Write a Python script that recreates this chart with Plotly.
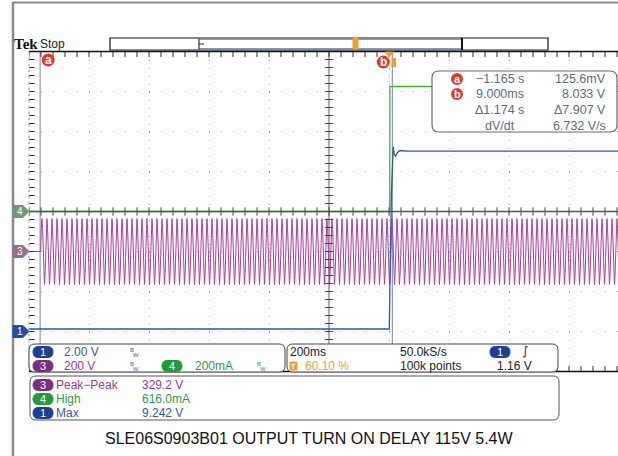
import plotly.graph_objects as go

W, H = 618, 456
FONT = "Liberation Sans, Arial, sans-serif"

# ---------------- scope settings ----------------
sec_per_div = 0.2
trigger_pos_pct = 60.10
h_divs = 10
v_divs = 8
ch1_v_per_div = 2.0
ch3_v_per_div = 200.0
ch4_a_per_div = 0.2
ch1_offset_div = 1.0
ch3_offset_div = 3.0
ch4_offset_div = 4.0

cursor_a_t = -1.165
cursor_b_t = 0.009

# Ch1 - output voltage (s, V)
ch1_t = [-1.202, -0.0010, 0.0000, 0.0030, 0.0060, 0.0090, 0.0120, 0.0150,
         0.0200, 0.0260, 0.0350, 0.0600, 0.2000, 0.4000, 0.7700]
ch1_v = [0.126, 0.126, 1.16, 4.60, 6.90, 8.033, 9.242, 8.90,
         8.75, 8.95, 9.05, 9.02, 9.03, 9.02, 9.02]

# Ch4 - input current (s, A)
ch4_t = [-1.202, 0.0004, 0.0010, 0.7700]
ch4_a = [0.0, 0.0, 0.625, 0.625]

# Ch3 - AC input: one 60 Hz mains cycle as read (V), repeated over the record
ch3_cycle_v = [0.0, 116.4, 164.6, 116.4, 0.0, -116.4, -164.6, -116.4]
ch3_cycle_s = 1 / 60
ch3_start_t = -1.163
ch3_end_t = 0.77

# readout texts
readout_rows = [("a", "\u22121.165 s", "125.6mV"),
                ("b", "9.000ms", "8.033 V"),
                ("", "\u03941.174 s", "\u03947.907 V"),
                ("", "dV/dt", "6.732 V/s")]
caption = "SLE06S0903B01 OUTPUT TURN ON DELAY 115V 5.4W"

# ---------------- geometry ----------------
GX0, GY0, GY1 = 29, 51.5, 371.5          # graticule left / top / bottom (px)
px_per_hdiv = (GY1 - GY0) / v_divs * 1.5  # 60 px
t_left = -trigger_pos_pct / 100 * h_divs * sec_per_div
t_right = t_left + (W - GX0) / px_per_hdiv * sec_per_div
t_center = t_left + h_divs / 2 * sec_per_div

def ypx(div):
    return GY1 - div * (GY1 - GY0) / v_divs

# build ch3 trace from the repeated cycle
ch3_t, ch3_v = [t_left, ch3_start_t], [0.0, 0.0]
step = ch3_cycle_s / len(ch3_cycle_v)
c = 0
while ch3_start_t + c * ch3_cycle_s < ch3_end_t:
    for i, v in enumerate(ch3_cycle_v):
        ch3_t.append(ch3_start_t + c * ch3_cycle_s + i * step)
        ch3_v.append(v)
    c += 1

C_BLUE, C_PURP, C_GREEN = "#2a55b0", "#a8409c", "#4cae3c"
P_BLUE, P_PURP, P_GREEN = "#1b3f94", "#7b2d82", "#1f9a3c"
C_RED, C_ORANGE = "#e23a2a", "#f0a030"
C_READ = "#5b6a8a"

fig = go.Figure()

# traces
fig.add_trace(go.Scatter(x=ch3_t, y=[ch3_offset_div + v / ch3_v_per_div for v in ch3_v],
                         mode="lines", line=dict(color=C_PURP, width=1), hoverinfo="skip"))
fig.add_trace(go.Scatter(x=ch4_t, y=[ch4_offset_div + a / ch4_a_per_div for a in ch4_a],
                         mode="lines", line=dict(color=C_GREEN, width=1.3), hoverinfo="skip"))
fig.add_trace(go.Scatter(x=ch1_t, y=[ch1_offset_div + v / ch1_v_per_div for v in ch1_v],
                         mode="lines", line=dict(color=C_BLUE, width=1.3), hoverinfo="skip"))

# graticule tick marks
minor_t = [t_left + k * sec_per_div / 5 for k in range(0, 60)]
minor_y = [k * 0.2 for k in range(0, 41)]
tick_mk = dict(color="#333", size=8, line=dict(color="#333", width=1))
for yy in (0, v_divs):
    fig.add_trace(go.Scatter(x=minor_t, y=[yy] * len(minor_t), mode="markers",
                             marker=dict(symbol="line-ns", **tick_mk), hoverinfo="skip"))
fig.add_trace(go.Scatter(x=minor_t, y=[v_divs / 2] * len(minor_t), mode="markers",
                         marker=dict(symbol="line-ns", color="#444", size=6,
                                     line=dict(color="#444", width=1)), hoverinfo="skip"))
fig.add_trace(go.Scatter(x=[t_center] * len(minor_y), y=minor_y, mode="markers",
                         marker=dict(symbol="line-ew", color="#444", size=6,
                                     line=dict(color="#444", width=1)), hoverinfo="skip"))
fig.add_trace(go.Scatter(x=[t_left] * len(minor_y), y=minor_y, mode="markers",
                         marker=dict(symbol="line-ew", **tick_mk), hoverinfo="skip"))

# dummy trace for the pixel overlay axes
fig.add_trace(go.Scatter(x=[0], y=[0], xaxis="x2", yaxis="y2", mode="markers",
                         marker=dict(opacity=0), hoverinfo="skip"))

shapes, anns = [], []

def rrect(x0, y0, x1, y1, r):
    return (f"M{x0+r},{y0} L{x1-r},{y0} Q{x1},{y0} {x1},{y0+r} L{x1},{y1-r} "
            f"Q{x1},{y1} {x1-r},{y1} L{x0+r},{y1} Q{x0},{y1} {x0},{y1-r} "
            f"L{x0},{y0+r} Q{x0},{y0} {x0+r},{y0} Z")

def pshape(path, fill="white", line="#333", width=1, layer="above"):
    shapes.append(dict(type="path", path=path, xref="x2", yref="y2", fillcolor=fill,
                       line=dict(color=line, width=width), layer=layer))

def pline(x0, y0, x1, y1, color, width=1, dash="solid", layer="above"):
    shapes.append(dict(type="line", x0=x0, y0=y0, x1=x1, y1=y1, xref="x2", yref="y2",
                       line=dict(color=color, width=width, dash=dash), layer=layer))

def txt(x, y, s, color="#333", size=11.5, anchor="left", family=FONT, **kw):
    anns.append(dict(x=x, y=y, xref="x2", yref="y2", text=s, showarrow=False,
                     xanchor=anchor, yanchor="middle",
                     font=dict(family=family, size=size, color=color), **kw))

def pill(x0, x1, yc, label, fill):
    pshape(rrect(x0, yc - 5.5, x1, yc + 5.5, 5.5), fill=fill, line=fill)
    txt((x0 + x1) / 2, yc, label, color="white", size=11, anchor="center")

def bw(x, yc, color):
    txt(x, yc - 2, "B", color=color, size=6)
    txt(x + 2.5, yc + 2.5, "W", color=color, size=6)

# cursors (data coordinates)
for ct in (cursor_a_t, cursor_b_t):
    shapes.append(dict(type="line", xref="x", yref="y", x0=ct, x1=ct, y0=0, y1=v_divs,
                       line=dict(color="#7484aa", width=1), layer="below"))
# center vertical line
shapes.append(dict(type="line", xref="x", yref="y", x0=t_center, x1=t_center, y0=0, y1=v_divs,
                   line=dict(color="#5a5a5a", width=1), layer="below"))
# center horizontal line (ch4 zero level)
shapes.append(dict(type="line", xref="x", yref="y", x0=t_left, x1=t_right, y0=v_divs / 2,
                   y1=v_divs / 2, line=dict(color="#4e5e4e", width=1.6), layer="above"))

# outer frame
pline(13, 2, 13, H, "#8a8a8a", 2.5)
pline(13, 2.5, W, 2.5, "#8a8a8a", 2)
# graticule edges
pline(GX0, GY0, W, GY0, "#111", 1.5)
pline(GX0, GY1, W, GY1, "#111", 1.5)
pline(GX0, GY0, GX0, GY1, "#9a9a9a", 1, dash="dot")

# cursor labels on graticule
for ct, lab, dx, dy in ((cursor_a_t, "a", 8, -8.5), (cursor_b_t, "b", -9, -10.5)):
    shapes.append(dict(type="circle", xref="x", yref="y", xsizemode="pixel", ysizemode="pixel",
                       xanchor=ct, yanchor=v_divs, x0=dx - 6.5, x1=dx + 6.5, y0=dy - 6.5, y1=dy + 6.5,
                       fillcolor=C_RED, line=dict(color=C_RED, width=0), layer="above"))
    anns.append(dict(x=ct, y=v_divs, xref="x", yref="y", xshift=dx, yshift=dy, text=f"<b>{lab}</b>",
                     showarrow=False, font=dict(family=FONT, size=12, color="white")))
# trigger position markers
shapes.append(dict(type="circle", xref="x", yref="y", xsizemode="pixel", ysizemode="pixel",
                   xanchor=0, yanchor=v_divs, x0=-4, x1=4, y0=-4, y1=4,
                   fillcolor=C_ORANGE, line=dict(width=0), layer="above"))
shapes.append(dict(type="rect", xref="x", yref="y", xsizemode="pixel", ysizemode="pixel",
                   xanchor=0, yanchor=v_divs, x0=2, x1=6.5, y0=-15.5, y1=-6.5,
                   fillcolor=C_ORANGE, line=dict(width=0), layer="above"))

# channel markers on the left edge
for off, lab, col in ((ch4_offset_div, "4", "#6f9a6f"), (ch3_offset_div, "3", "#93708c"),
                      (ch1_offset_div, "1", "#1f4fa6")):
    y = ypx(off)
    pshape(f"M13,{y-6} L23,{y-6} L29,{y} L23,{y+6} L13,{y+6} Z", fill=col, line=col)
    txt(19.5, y, lab, color="white", size=10, anchor="center")

# Tek Stop + record bar
txt(12, 44, "<b>Tek</b>", color="#111", size=15, family="Liberation Serif, Times New Roman, serif")
txt(38, 43.5, "Stop", color="#222", size=12)
pshape("M110,38 L548,38 L548,50 L110,50 Z", fill="white", line="#111", width=1.2)
pshape("M199,39.5 L462,39.5 L462,48.5 L199,48.5 Z", fill="rgba(0,0,0,0)", line="#8a9ab8", width=1)
pline(462, 38, 462, 50, "#111", 2)
pline(199, 38.5, 199, 49.5, "#333", 1)
pline(199, 44, 204, 44, "#333", 1)
pshape("M353,40 L358,40 L358,49 L353,49 Z", fill=C_ORANGE, line=C_ORANGE)
shapes.append(dict(type="circle", xref="x2", yref="y2", x0=352.5, x1=358.5, y0=36.5, y1=41.5,
                   fillcolor=C_ORANGE, line=dict(width=0), layer="above"))

# cursor readout box
pshape(rrect(432, 71, 617, 132, 7), fill="white", line="#6a6a6a", width=1.2)
for (lab, v1, v2), yc in zip(readout_rows, (79, 94, 110, 126)):
    if lab:
        shapes.append(dict(type="circle", xref="x2", yref="y2", x0=451, x1=463,
                           y0=yc - 6, y1=yc + 6, fillcolor=C_RED,
                           line=dict(width=0), layer="above"))
        txt(457, yc, f"<b>{lab}</b>", color="white", size=11, anchor="center")
    txt(499.5, yc, v1, color=C_READ, size=12.5, anchor="center")
    txt(608, yc, v2, color=C_READ, size=12.5, anchor="right")

# bottom-left channel box
pshape(rrect(29, 344, 285, 372, 6), fill="white", line="#444", width=1)
pill(33, 53, 352, "1", P_BLUE)
txt(62, 352, "2.00 V", color="#3658a8", size=12)
bw(128, 352, "#3658a8")
pill(33, 53, 366, "3", P_PURP)
txt(62, 366, "200 V", color="#9a3a94", size=12)
bw(128, 366, "#9a3a94")
pill(162, 182, 366, "4", P_GREEN)
txt(193, 366, "200mA", color="#2e9a48", size=12)
bw(255, 366, "#2e9a48")

# timebase / trigger box
pshape(rrect(287, 344, 558, 372, 6), fill="white", line="#444", width=1)
txt(288, 352, "200ms", color="#222", size=12)
txt(398, 352, "50.0kS/s", color="#222", size=12)
pill(490, 510, 352, "1", P_BLUE)
txt(520, 351, "\u222b", color="#222", size=12, family="DejaVu Sans")
pshape("M290,362 L297,362 L297,370 L290,370 Z", fill=C_ORANGE, line=C_ORANGE)
txt(293.5, 366, "<b>T</b>", color="white", size=7, anchor="center")
txt(303, 366, "60.10 %", color="#e8a040", size=12)
txt(398, 366, "100k points", color="#222", size=12)
txt(495, 366, "1.16 V", color="#222", size=12)

# measurement box
pshape(rrect(30, 376, 559, 420, 6), fill="white", line="#555", width=1)
for (lab, name, val, fill, col), yc in zip(
        (("3", "Peak\u2212Peak", "329.2 V", P_PURP, "#9a3a94"),
         ("4", "High", "616.0mA", P_GREEN, "#2e9a48"),
         ("1", "Max", "9.242 V", P_BLUE, "#3658a8")), (385, 399, 413)):
    pill(33, 53, yc, lab, fill)
    txt(54, yc, name, color=col, size=12)
    txt(140, yc, val, color=col, size=12)

# caption
txt(309, 438, caption, color="#111", size=16, anchor="center")

fig.update_layout(
    width=W, height=H, margin=dict(l=0, r=0, t=0, b=0),
    paper_bgcolor="white", plot_bgcolor="rgba(0,0,0,0)", showlegend=False,
    xaxis=dict(domain=[GX0 / W, 1], range=[t_left, t_right], tick0=t_left, dtick=sec_per_div,
               showgrid=True, gridcolor="#a0a0a0", gridwidth=1, griddash="1px,7px",
               zeroline=False, showticklabels=False, ticks="", showline=False, fixedrange=True),
    yaxis=dict(domain=[(H - GY1) / H, (H - GY0) / H], range=[0, v_divs], tick0=0, dtick=1,
               showgrid=True, gridcolor="#a0a0a0", gridwidth=1, griddash="1px,11px",
               zeroline=False, showticklabels=False, ticks="", showline=False, fixedrange=True),
    xaxis2=dict(domain=[0, 1], range=[0, W], visible=False, anchor="y2", fixedrange=True),
    yaxis2=dict(domain=[0, 1], range=[H, 0], visible=False, anchor="x2", fixedrange=True),
    shapes=shapes, annotations=anns,
)

fig.write_html("out.html", post_script="document.body.style.margin='0';",
               config={"displayModeBar": False})
